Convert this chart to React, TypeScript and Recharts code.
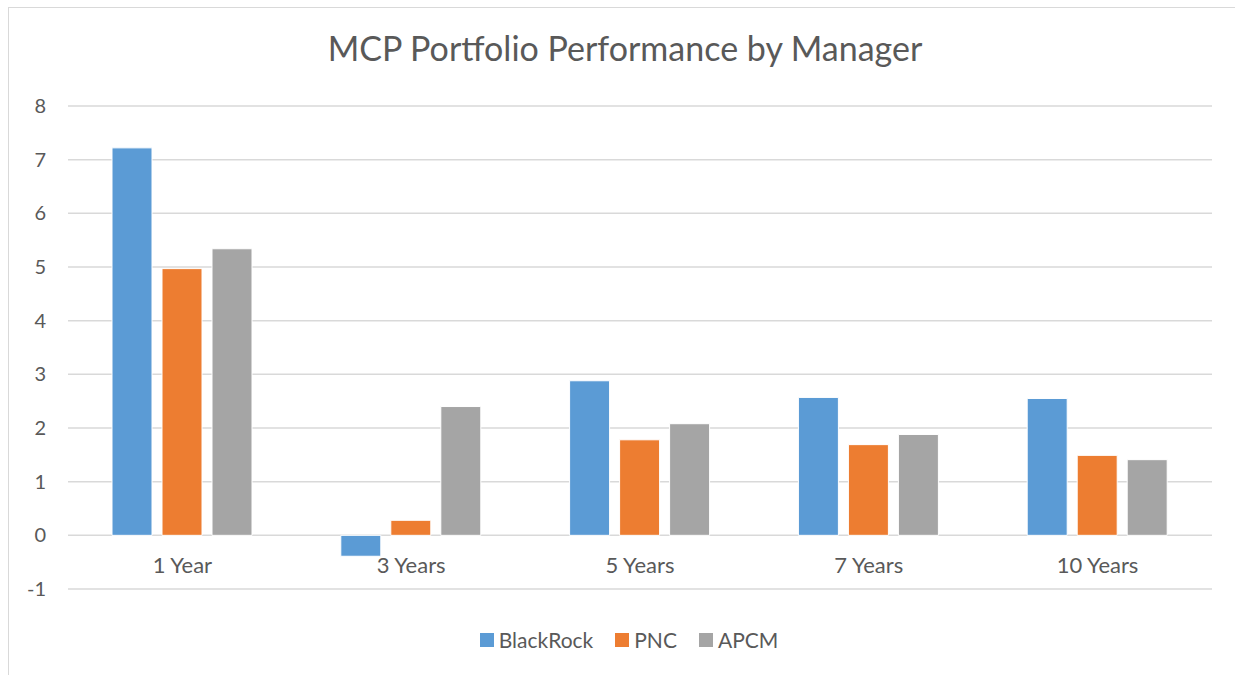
import { BarChart, Bar, XAxis, YAxis, CartesianGrid } from 'recharts';

// Données
const CATEGORIES = ['1 Year', '3 Years', '5 Years', '7 Years', '10 Years'];
const BLACKROCK = [7.22, -0.39, 2.88, 2.57, 2.55];
const PNC = [4.97, 0.28, 1.78, 1.69, 1.49];
const APCM = [5.34, 2.4, 2.08, 1.88, 1.41];
const Y_TICKS = [-1, 0, 1, 2, 3, 4, 5, 6, 7, 8];

const SERIES = [
  { key: 'BlackRock', color: '#5B9BD5' },
  { key: 'PNC', color: '#ED7D31' },
  { key: 'APCM', color: '#A5A5A5' },
];

const FONT = 'Lato, "Open Sans", sans-serif';
const TEXT = '#595959';

const data = CATEGORIES.map((c, i) => ({
  name: c,
  BlackRock: BLACKROCK[i],
  PNC: PNC[i],
  APCM: APCM[i],
}));

// Étiquettes de catégorie placées sous la ligne zéro, comme dans Excel
function CategoryTick(props: any) {
  const { x, y, payload } = props;
  return (
    <text x={x} y={y - 16} textAnchor="middle" fill={TEXT} fontSize={22} fontFamily={FONT}>
      {payload.value}
    </text>
  );
}

export default function App() {
  return (
    <div style={{ position: 'absolute', left: 0, top: 0, width: 1235, height: 675, background: '#fff', overflow: 'hidden' }}>
      <div
        style={{
          position: 'absolute',
          left: 8,
          top: 7,
          width: 1240,
          height: 680,
          border: '1px solid #d9d9d9',
          boxSizing: 'border-box',
        }}
      />
      <div
        style={{
          position: 'absolute',
          left: 0,
          top: 27,
          width: 1250,
          textAlign: 'center',
          fontFamily: FONT,
          fontSize: 34,
          color: TEXT,
        }}
      >
        MCP Portfolio Performance by Manager
      </div>
      <div style={{ position: 'absolute', left: 0, top: 0 }}>
        <BarChart
          width={1235}
          height={675}
          data={data}
          margin={{ top: 106, right: 23, bottom: 56, left: 8 }}
          barGap={10}
          barSize={40}
        >
          <CartesianGrid vertical={false} stroke="#d9d9d9" strokeWidth={1.5} />
          <XAxis
            dataKey="name"
            height={30}
            axisLine={false}
            tickLine={false}
            tickSize={0}
            tickMargin={0}
            tick={<CategoryTick />}
            interval={0}
          />
          <YAxis
            width={60}
            domain={[-1, 8]}
            ticks={Y_TICKS}
            axisLine={false}
            tickLine={false}
            tickSize={0}
            tickMargin={22}
            tick={{ fill: TEXT, fontSize: 20, fontFamily: FONT }}
          />
          {SERIES.map((s) => (
            <Bar key={s.key} dataKey={s.key} fill={s.color} stroke="#fff" strokeWidth={1} isAnimationActive={false} />
          ))}
        </BarChart>
      </div>
      <div
        style={{
          position: 'absolute',
          left: 0,
          top: 627,
          width: 1258,
          display: 'flex',
          justifyContent: 'center',
          gap: 22,
          fontFamily: FONT,
          fontSize: 21,
          color: TEXT,
        }}
      >
        {SERIES.map((s) => (
          <div key={s.key} style={{ display: 'flex', alignItems: 'center', gap: 5 }}>
            <div style={{ width: 14, height: 14, background: s.color }} />
            <span>{s.key}</span>
          </div>
        ))}
      </div>
    </div>
  );
}
